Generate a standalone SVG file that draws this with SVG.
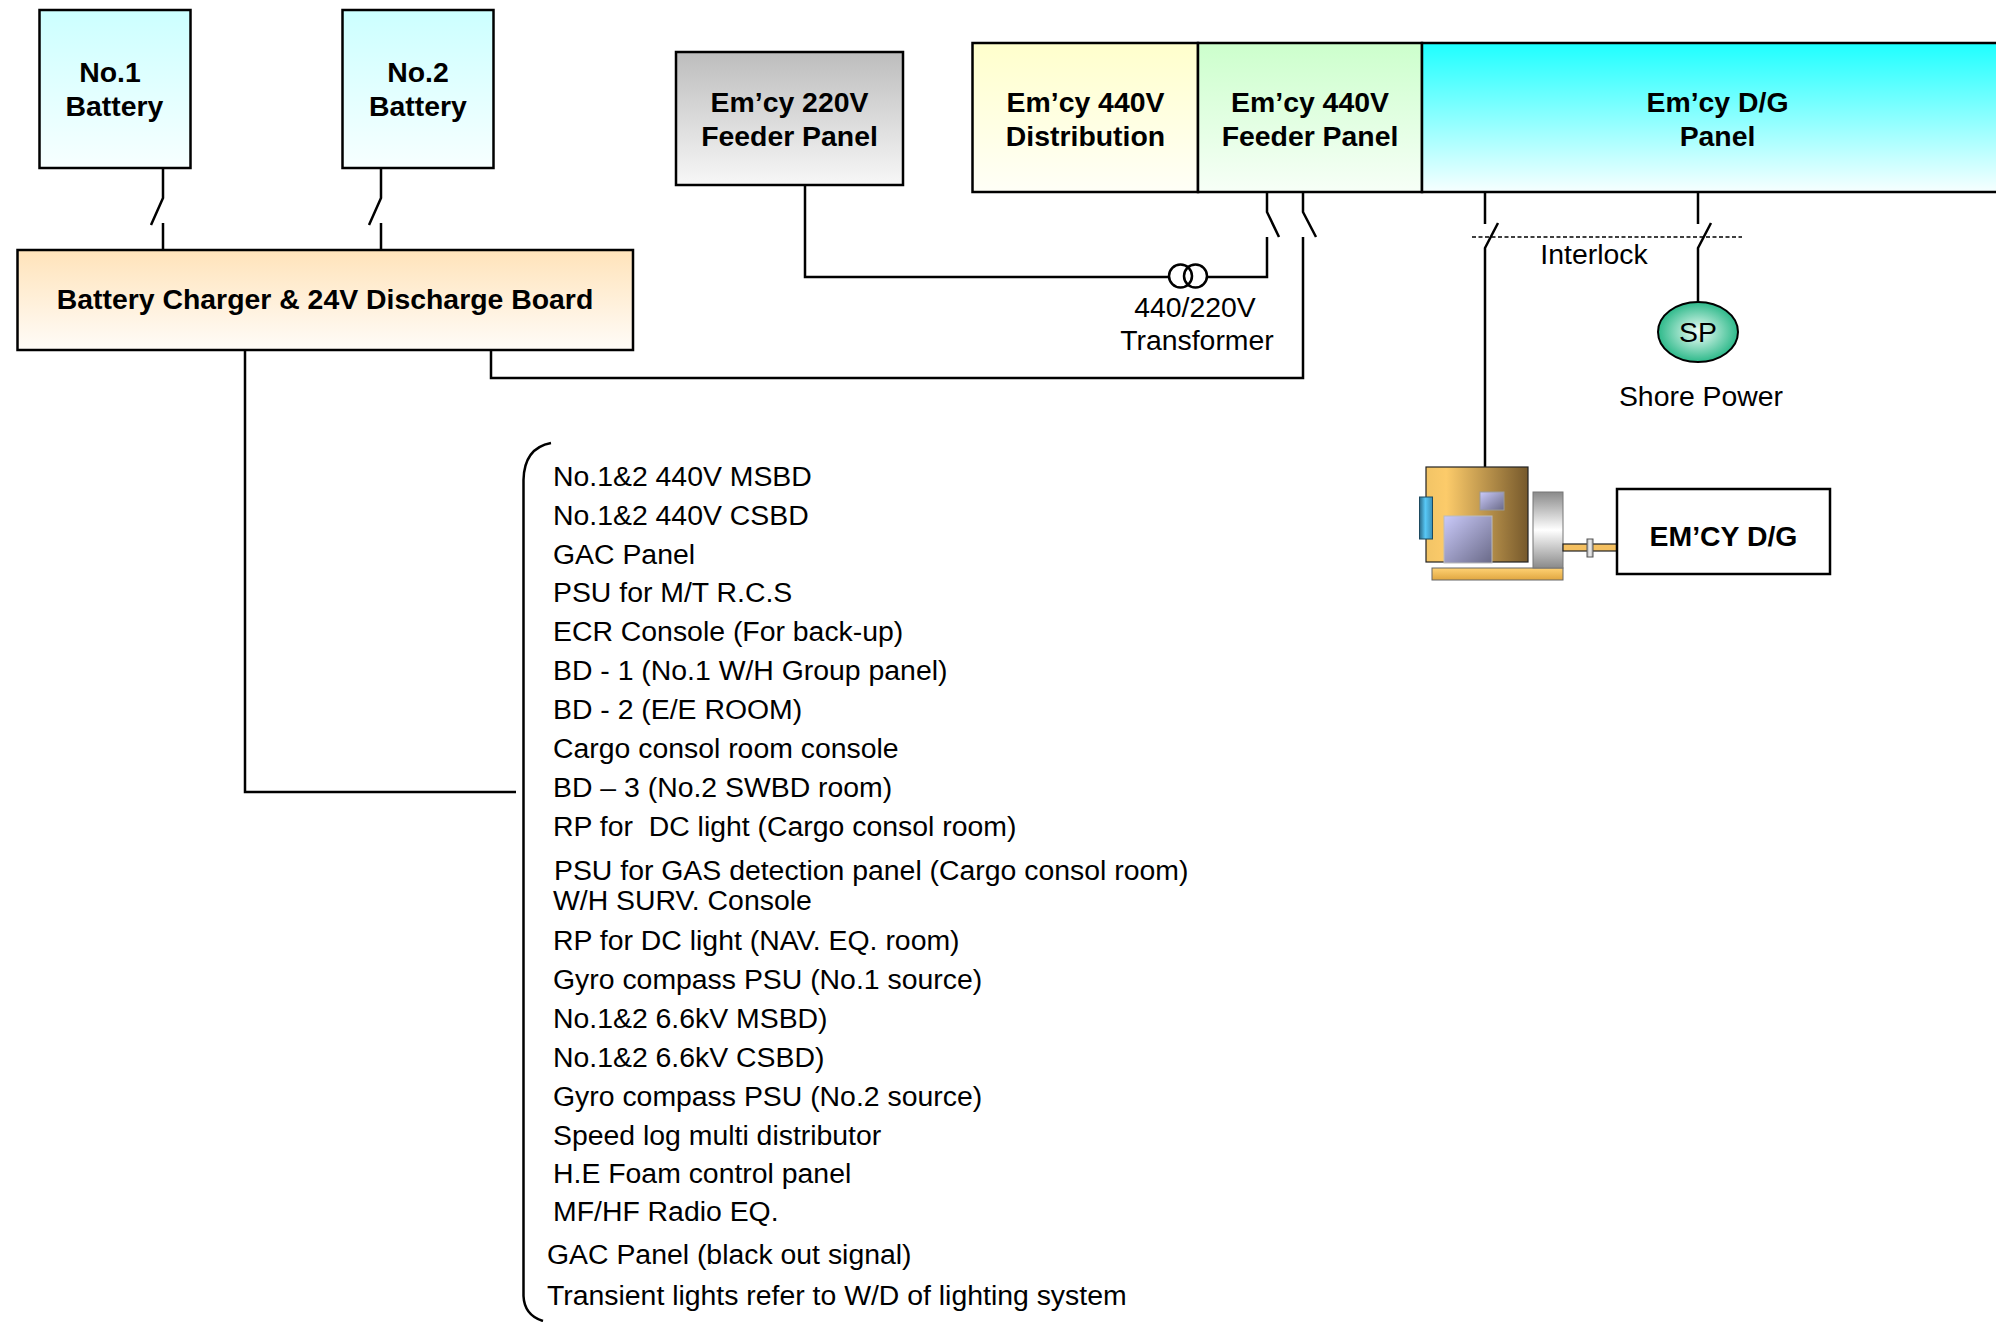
<svg xmlns="http://www.w3.org/2000/svg" width="1996" height="1322" viewBox="0 0 1996 1322">
  <defs>
    <style>
      .box { stroke: #000; stroke-width: 2.5; }
      .wire { fill: none; stroke: #000; stroke-width: 2.5; stroke-linecap: butt; }
      .lbl { font-family: "Liberation Sans", Arial, sans-serif; font-size: 28.4px; font-weight: bold; fill: #000; text-anchor: middle; }
      .txt { font-family: "Liberation Sans", Arial, sans-serif; font-size: 28.4px; fill: #000; }
      .mid { text-anchor: middle; }
    </style>
    <linearGradient id="gCyanPale" x1="0" y1="0" x2="0" y2="1">
      <stop offset="0" stop-color="#CCFFFF"/>
      <stop offset="1" stop-color="#F7FFFF"/>
    </linearGradient>
    <linearGradient id="gPeach" x1="0" y1="0" x2="0" y2="1">
      <stop offset="0" stop-color="#FFE3BA"/>
      <stop offset="1" stop-color="#FFFCF8"/>
    </linearGradient>
    <linearGradient id="gGray" x1="0" y1="0" x2="0" y2="1">
      <stop offset="0" stop-color="#BDBDBD"/>
      <stop offset="1" stop-color="#F7F7F7"/>
    </linearGradient>
    <linearGradient id="gYellow" x1="0" y1="0" x2="0" y2="1">
      <stop offset="0" stop-color="#FFFFCC"/>
      <stop offset="1" stop-color="#FFFFF7"/>
    </linearGradient>
    <linearGradient id="gGreen" x1="0" y1="0" x2="0" y2="1">
      <stop offset="0" stop-color="#CCFFCC"/>
      <stop offset="1" stop-color="#F7FFF7"/>
    </linearGradient>
    <linearGradient id="gCyan" x1="0" y1="0" x2="0" y2="1">
      <stop offset="0" stop-color="#1EFFFF"/>
      <stop offset="1" stop-color="#F7FFFF"/>
    </linearGradient>
    <radialGradient id="gSP" cx="0.5" cy="0.5" r="0.5">
      <stop offset="0" stop-color="#F2FFF9"/>
      <stop offset="1" stop-color="#2DB98A"/>
    </radialGradient>
    <linearGradient id="gBody" x1="0" y1="0" x2="1" y2="0">
      <stop offset="0" stop-color="#F2C466"/>
      <stop offset="0.2" stop-color="#FCCB6A"/>
      <stop offset="1" stop-color="#76592C"/>
    </linearGradient>
    <linearGradient id="gWindow" x1="0" y1="0" x2="1" y2="1">
      <stop offset="0" stop-color="#CACAFA"/>
      <stop offset="1" stop-color="#6A6A88"/>
    </linearGradient>
    <linearGradient id="gBlue" x1="0" y1="0" x2="1" y2="0">
      <stop offset="0" stop-color="#2A6A88"/>
      <stop offset="0.45" stop-color="#58C8F6"/>
      <stop offset="1" stop-color="#3A8EB6"/>
    </linearGradient>
    <linearGradient id="gWheel" x1="0" y1="0" x2="0" y2="1">
      <stop offset="0" stop-color="#8A8A8A"/>
      <stop offset="0.5" stop-color="#FFFFFF"/>
      <stop offset="1" stop-color="#8A8A8A"/>
    </linearGradient>
    <linearGradient id="gBase" x1="0" y1="0" x2="0" y2="1">
      <stop offset="0" stop-color="#FFD274"/>
      <stop offset="1" stop-color="#E0A640"/>
    </linearGradient>
    <linearGradient id="gCoupling" x1="0" y1="0" x2="1" y2="0">
      <stop offset="0" stop-color="#A8A8A8"/>
      <stop offset="0.5" stop-color="#F2F2F2"/>
      <stop offset="1" stop-color="#A8A8A8"/>
    </linearGradient>
  </defs>

  <rect x="0" y="0" width="1996" height="1322" fill="#FFFFFF"/>

  <!-- Connectors: feeders, switches, transformer and interlock -->
  <g id="connectors">
    <!-- No.1 battery breaker -->
    <path class="wire" d="M163 168 V198 L151 225 M163 223 V250"/>
    <!-- No.2 battery breaker -->
    <path class="wire" d="M381 168 V198 L369 225 M381 223 V250"/>
    <!-- 24V outgoing feeders to consumer list -->
    <path class="wire" d="M245 350 V792 H516"/>
    <!-- Charger supply from Em'cy 440V feeder panel -->
    <path class="wire" d="M491 350 V378 H1303 V237"/>
    <path class="wire" d="M1303 192 V212 L1316 237"/>
    <!-- 220V feeder panel via transformer -->
    <path class="wire" d="M805 185 V277 H1169"/>
    <path class="wire" d="M1207 277 H1267 V237"/>
    <path class="wire" d="M1267 192 V212 L1279 237"/>
    <circle class="wire" cx="1180.5" cy="276" r="11.5"/>
    <circle class="wire" cx="1195.5" cy="276" r="11.5"/>
    <!-- Em'cy D/G breaker -->
    <path class="wire" d="M1485 192 V224 M1498 223 L1485 248 V467"/>
    <!-- Shore power breaker -->
    <path class="wire" d="M1698 192 V224 M1711 223 L1698 248 V302"/>
    <!-- Interlock between D/G and shore breakers -->
    <path d="M1472 237 H1742" fill="none" stroke="#000" stroke-width="1.6" stroke-dasharray="4 2.5"/>
    <!-- Bracket grouping the 24V consumers -->
    <path class="wire" d="M551 443 C535 446 524 456 523.5 480 V1296 C524 1308 530 1317 543 1321"/>
  </g>

  <g id="battery1">
    <rect class="box" x="39.5" y="10" width="151" height="158" fill="url(#gCyanPale)"/>
    <text class="lbl" x="110" y="82">No.1</text>
    <text class="lbl" x="114.5" y="116">Battery</text>
  </g>

  <g id="battery2">
    <rect class="box" x="342.5" y="10" width="151" height="158" fill="url(#gCyanPale)"/>
    <text class="lbl" x="418" y="82">No.2</text>
    <text class="lbl" x="418" y="116">Battery</text>
  </g>

  <g id="charger">
    <rect class="box" x="17.5" y="250" width="615.5" height="100" fill="url(#gPeach)"/>
    <text class="lbl" x="325" y="309">Battery Charger &amp; 24V Discharge Board</text>
  </g>

  <g id="feeder220">
    <rect class="box" x="676" y="52" width="227" height="133" fill="url(#gGray)"/>
    <text class="lbl" x="789.5" y="112">Em’cy 220V</text>
    <text class="lbl" x="789.5" y="146">Feeder Panel</text>
  </g>

  <g id="dist440">
    <rect class="box" x="972.5" y="43" width="225.5" height="149" fill="url(#gYellow)"/>
    <text class="lbl" x="1085.5" y="112">Em’cy 440V</text>
    <text class="lbl" x="1085.5" y="146">Distribution</text>
  </g>

  <g id="feeder440">
    <rect class="box" x="1198" y="43" width="224" height="149" fill="url(#gGreen)"/>
    <text class="lbl" x="1310" y="112">Em’cy 440V</text>
    <text class="lbl" x="1310" y="146">Feeder Panel</text>
  </g>

  <g id="dgpanel">
    <rect class="box" x="1422" y="43" width="600" height="149" fill="url(#gCyan)"/>
    <text class="lbl" x="1717.5" y="112">Em’cy D/G</text>
    <text class="lbl" x="1717.5" y="146">Panel</text>
  </g>

  <g id="interlock-label">
    <text class="txt mid" x="1594" y="264">Interlock</text>
  </g>

  <g id="transformer-label">
    <text class="txt mid" x="1195" y="317">440/220V</text>
    <text class="txt mid" x="1197" y="350">Transformer</text>
  </g>

  <g id="shore-power">
    <ellipse cx="1698" cy="332" rx="40" ry="30" fill="url(#gSP)" stroke="#000" stroke-width="2"/>
    <text class="txt mid" x="1698" y="342">SP</text>
    <text class="txt mid" x="1701" y="406">Shore Power</text>
  </g>

  <!-- Emergency generator set: alternator, flywheel, shaft and engine box -->
  <g id="generator">
    <rect x="1432" y="568" width="131" height="12" fill="url(#gBase)" stroke="#666" stroke-width="1"/>
    <rect x="1426" y="467" width="102" height="95" fill="url(#gBody)" stroke="#222" stroke-width="1.2"/>
    <rect x="1480" y="492" width="24" height="18" fill="url(#gWindow)" stroke="#999" stroke-width="1"/>
    <rect x="1444" y="516" width="48" height="47" fill="url(#gWindow)" stroke="#BBB" stroke-width="1"/>
    <rect x="1419.5" y="497" width="13" height="42" fill="url(#gBlue)" stroke="#1D4A60" stroke-width="1"/>
    <rect x="1533" y="492" width="30" height="76" fill="url(#gWheel)" stroke="#777" stroke-width="1"/>
    <rect x="1563" y="544" width="54" height="7" fill="#F5C060" stroke="#222" stroke-width="1.2"/>
    <rect x="1587" y="539" width="6" height="18" fill="url(#gCoupling)" stroke="#555" stroke-width="1"/>
  </g>

  <g id="emcy-dg">
    <rect class="box" x="1617" y="489" width="213" height="85" fill="#FFFFFF"/>
    <text class="lbl" x="1723.5" y="546">EM’CY D/G</text>
  </g>

  <g id="consumers">
    <text class="txt" x="553" y="486">No.1&amp;2 440V MSBD</text>
    <text class="txt" x="553" y="525">No.1&amp;2 440V CSBD</text>
    <text class="txt" x="553" y="564">GAC Panel</text>
    <text class="txt" x="553" y="602">PSU for M/T R.C.S</text>
    <text class="txt" x="553" y="641">ECR Console (For back-up)</text>
    <text class="txt" x="553" y="680">BD - 1 (No.1 W/H Group panel)</text>
    <text class="txt" x="553" y="719">BD - 2 (E/E ROOM)</text>
    <text class="txt" x="553" y="758">Cargo consol room console</text>
    <text class="txt" x="553" y="797">BD – 3 (No.2 SWBD room)</text>
    <text class="txt" x="553" y="836" xml:space="preserve">RP for  DC light (Cargo consol room)</text>
    <text class="txt" x="554" y="880">PSU for GAS detection panel (Cargo consol room)</text>
    <text class="txt" x="553" y="910">W/H SURV. Console</text>
    <text class="txt" x="553" y="950">RP for DC light (NAV. EQ. room)</text>
    <text class="txt" x="553" y="989">Gyro compass PSU (No.1 source)</text>
    <text class="txt" x="553" y="1028">No.1&amp;2 6.6kV MSBD)</text>
    <text class="txt" x="553" y="1067">No.1&amp;2 6.6kV CSBD)</text>
    <text class="txt" x="553" y="1106">Gyro compass PSU (No.2 source)</text>
    <text class="txt" x="553" y="1145">Speed log multi distributor</text>
    <text class="txt" x="553" y="1183">H.E Foam control panel</text>
    <text class="txt" x="553" y="1221">MF/HF Radio EQ.</text>
    <text class="txt" x="547" y="1264">GAC Panel (black out signal)</text>
    <text class="txt" x="547" y="1305">Transient lights refer to W/D of lighting system</text>
  </g>
</svg>
